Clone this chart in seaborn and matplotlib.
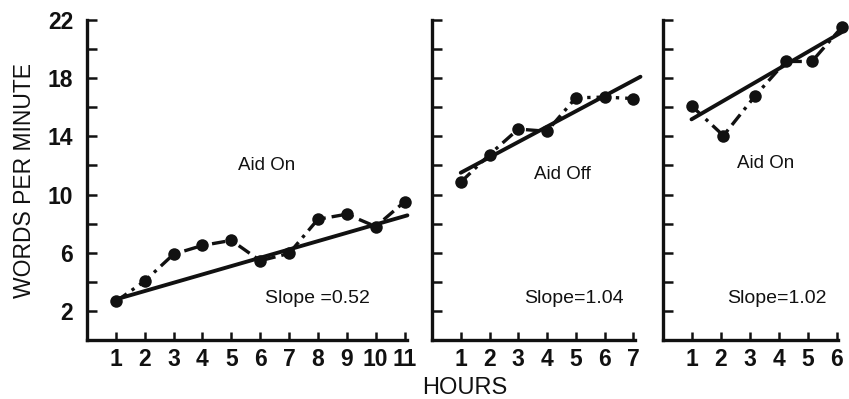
import matplotlib
matplotlib.use("Agg")
import matplotlib.pyplot as plt
import seaborn as sns
import numpy as np

# ---- data ----
left_hours = [1, 2, 3, 4, 5, 6, 7, 8, 9, 10, 11]
left_wpm = [2.65, 4.05, 5.9, 6.5, 6.85, 5.45, 5.95, 8.3, 8.65, 7.8, 9.5]
left_trend_x = [1.1, 11.1]
left_trend_y = [2.85, 8.57]

mid_hours = [1, 2, 3, 4, 5, 6, 7]
mid_wpm = [10.85, 12.75, 14.5, 14.35, 16.65, 16.7, 16.6]
mid_trend_x = [1.0, 7.25]
mid_trend_y = [11.5, 18.1]

right_hours = [1.0, 2.1, 3.2, 4.25, 5.15, 6.2]
right_wpm = [16.1, 14.05, 16.8, 19.15, 19.15, 21.55]
right_trend_x = [1.0, 6.17]
right_trend_y = [15.17, 21.15]

panel_labels = ["Aid On", "Aid Off", "Aid On"]
slope_labels = ["Slope =0.52", "Slope=1.04", "Slope=1.02"]
x_ticks = [list(range(1, 12)), list(range(1, 8)), list(range(1, 7))]
y_major = [2, 6, 10, 14, 18, 22]
y_minor = [4, 8, 12, 16, 20]

# ---- style ----
sns.set_theme(style="ticks")
plt.rcParams['font.family'] = ['Liberation Sans', 'DejaVu Sans']

W, H = 849, 399
fig = plt.figure(figsize=(W / 100, H / 100), dpi=100)

def rect(x0, width):
    return [x0 / W, 59 / H, width / W, 320 / H]

axes = [fig.add_axes(rect(87, 320.4)),
        fig.add_axes(rect(432, 203)),
        fig.add_axes(rect(662.5, 175.8))]
xlims = [(0, 11.1), (0, 7.06), (0, 6.06)]

data = [(left_hours, left_wpm, left_trend_x, left_trend_y),
        (mid_hours, mid_wpm, mid_trend_x, mid_trend_y),
        (right_hours, right_wpm, right_trend_x, right_trend_y)]

label_pos = [((6.22, 12.03), (7.98, 2.83)),
             ((4.52, 11.38), (4.92, 2.83)),
             ((3.56, 12.14), (3.94, 2.83))]

ink = "#111111"
for i, ax in enumerate(axes):
    hx, hy, tx, ty = data[i]
    sns.lineplot(x=tx, y=ty, ax=ax, color=ink, lw=2.8, errorbar=None,
                 clip_on=False)
    sns.lineplot(x=hx, y=hy, ax=ax, color=ink, lw=2.4, errorbar=None,
                 linestyle=(0, (4, 1.8, 1.0, 1.8)), marker='o',
                 markersize=9, markeredgewidth=0, clip_on=False)
    ax.set_xlim(*xlims[i])
    ax.set_ylim(0, 22)
    ax.set_xticks(x_ticks[i])
    ax.set_yticks(y_major)
    ax.set_yticks(y_minor, minor=True)
    ax.tick_params(axis='y', which='both', direction='in', length=7,
                   width=1.8, color=ink, pad=10)
    ax.tick_params(axis='x', direction='in', length=6, width=1.8,
                   color=ink, pad=6)
    for lab in ax.get_xticklabels() + ax.get_yticklabels():
        lab.set_fontsize(16.5)
        lab.set_fontweight('bold')
        lab.set_color(ink)
    if i > 0:
        ax.set_yticklabels([])
    for s in ['left', 'bottom']:
        ax.spines[s].set_linewidth(2.4)
        ax.spines[s].set_color(ink)
    for s in ['top', 'right']:
        ax.spines[s].set_visible(False)
    ax.set_xlabel("")
    ax.set_ylabel("")
    (ax1, ay1), (ax2, ay2) = label_pos[i]
    ax.text(ax1, ay1, panel_labels[i], ha='center', va='center',
            fontsize=13.5, color=ink)
    ax.text(ax2, ay2, slope_labels[i], ha='center', va='center',
            fontsize=14, color=ink)

fig.text(25 / W, 1 - 180 / H, "WORDS PER MINUTE", rotation=90,
         ha='center', va='center', fontsize=16.5, color=ink)
fig.text(465 / W, 1 - 388 / H, "HOURS", ha='center', va='center',
         fontsize=17, color=ink)

fig.savefig("out.png", dpi=100)
